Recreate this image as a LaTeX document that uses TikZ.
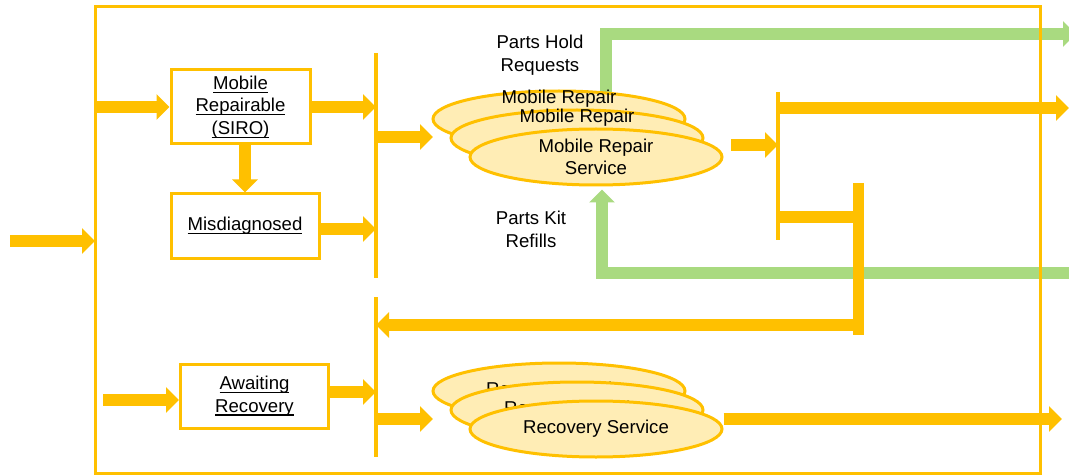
\documentclass[tikz,border=0pt]{standalone}
\usepackage{fontspec}
\setmainfont{Liberation Sans}
\usetikzlibrary{arrows.meta,shapes.geometric,backgrounds}

\definecolor{amber}{HTML}{FFC000}
\definecolor{leaf}{HTML}{A9DA80}
\definecolor{cream}{HTML}{FFEDB5}

% underline at a fixed depth, also below descenders
\newcommand{\ulword}[1]{\setbox0=\hbox{#1}\rlap{\rule[-3.5pt]{\wd0}{1.2pt}}\box0}

\begin{document}
\begin{tikzpicture}[x=1pt,y=-1pt,
  font=\fontsize{18.6}{22.5}\selectfont,
  flow/.style={draw=amber, line width=12pt, -{Triangle[length=13pt,width=25pt]}},
  link/.style={draw=amber, line width=12pt},
  partsflow/.style={draw=leaf, line width=12pt, -{Triangle[length=13pt,width=25pt]}},
  bar/.style={draw=amber, line width=4.5pt},
  box/.style={draw=amber, line width=3pt, fill=white, align=center, inner sep=0pt},
  svc/.style={ellipse, draw=amber, line width=3pt, fill=cream, minimum width=252pt, minimum height=56pt, inner sep=0pt, align=center},
  raised/.style={label={[align=center, yshift=11pt]center:Mobile Repair\\Service}}]
\useasboundingbox (0,0) rectangle (1069,476);

\coordinate (nw) at (95,7);
\coordinate (se) at (1040,473);
\coordinate (b1top) at (376,53);
\coordinate (b1bot) at (376,278);
\coordinate (b2top) at (376,297);
\coordinate (b2bot) at (376,457);
\coordinate (b3top) at (778,92);
\coordinate (b3bot) at (778,240);
\coordinate (b4top) at (858,183);
\coordinate (b4bot) at (858,335);

% queues
\node[box, minimum width=139pt, minimum height=74pt] (mrep) at (240.5,107) {\ulword{Mobile}\\\ulword{Repairable}\\\ulword{(SIRO)}};
\node[box, minimum width=148pt, minimum height=64pt] (misd) at (245,226) {\ulword{Misdiagnosed}};
\node[box, minimum width=148pt, minimum height=64pt] (await) at (254.5,396) {\ulword{Awaiting}\\\ulword{Recovery}};

% service stacks
\node[svc, raised] (mob1) at (559,119) {};
\node[svc, raised] (mob2) at (577,138) {};
\node[svc] (mob3) at (596,157) {Mobile Repair\\Service};
\node[svc] (rec1) at (559,391) {Recovery Service};
\node[svc] (rec2) at (577,410) {Recovery Service};
\node[svc] (rec3) at (596,429) {Recovery Service};

\node[align=center] (holdtxt) at (540,55) {Parts Hold\\Requests};
\node[align=center] (kittxt) at (531,229.5) {Parts Kit\\Refills};

% parts loop
\coordinate (hold) at (1076,34);
\coordinate (refill) at (1069,273);
\begin{pgfonlayer}{background}
\draw[partsflow] ([xshift=47pt]mob1.center) |- (hold);
\draw[partsflow] (refill) -| ([xshift=6pt,yshift=-3pt]mob3.south);
\end{pgfonlayer}

\draw[amber, line width=3pt] (nw) rectangle (se);

\draw[bar] (b1top) -- (b1bot);
\draw[bar] (b2top) -- (b2bot);
\draw[bar] (b3top) -- (b3bot);
\draw[amber, line width=11pt] (b4top) -- (b4bot);

% inflows
\coordinate (in) at (10,241);
\coordinate (in2) at (103,400);
\draw[flow] (in) -- (in -| nw);
\draw[flow] (mrep.west -| nw) -- (mrep.west);
\draw[flow] (in2) -- (in2 -| await.west);
\draw[flow] (misd.north |- mrep.south) -- (misd.north);

\draw[flow] (mrep.east) -- (mrep.east -| b1top);
\draw[flow] ([yshift=-3pt]misd.east) -- ([yshift=-3pt]misd.east -| b1top);
\draw[flow] ([yshift=4pt]await.east) -- ([yshift=4pt]await.east -| b2top);

\coordinate (mobin) at (433,137);
\coordinate (recin) at (433,419);
\draw[flow] (mobin -| b1top) -- (mobin);
\draw[flow] (recin -| b2top) -- (recin);

% outflows
\coordinate (mobout) at (731,145);
\coordinate (out1) at (1069,108);
\coordinate (tee) at (858,217);
\coordinate (back) at (858,325);
\coordinate (out2) at (1062,419);
\draw[flow] (mobout) -- (mobout -| b3top);
\draw[flow] (out1 -| b3top) -- (out1);
\draw[link] (tee -| b3top) -- (tee);
\draw[flow] (back) -- (back -| b2top);
\draw[flow] (out2 -| rec3.east) -- (out2);
\end{tikzpicture}
\end{document}
